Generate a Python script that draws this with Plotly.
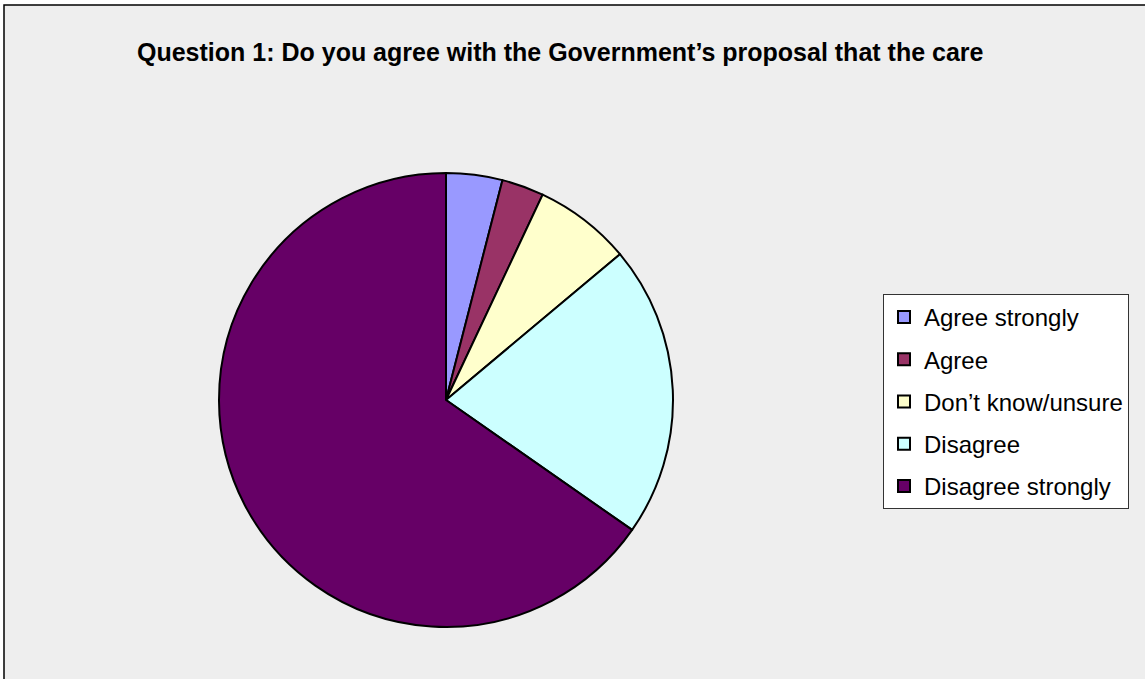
import plotly.graph_objects as go

categories = ["Agree strongly", "Agree", "Don\u2019t know/unsure", "Disagree", "Disagree strongly"]
values = [4.0, 3.0, 6.9, 20.8, 65.3]
colors = ["#9999FF", "#993366", "#FFFFCC", "#CCFFFF", "#660066"]
title_text = "Question 1: Do you agree with the Government\u2019s proposal that the care"

W, H = 1145, 679
cx, cy, r = 446, 400, 227

fig = go.Figure()
fig.add_trace(go.Pie(
    labels=categories, values=values, sort=False, direction="clockwise", rotation=0,
    marker=dict(colors=colors, line=dict(color="#000000", width=2)),
    textinfo="none", hoverinfo="label+percent", showlegend=False,
    domain=dict(x=[(cx - r) / W, (cx + r) / W], y=[(H - cy - r) / H, (H - cy + r) / H]),
))
for i, (lab, col) in enumerate(zip(categories, colors)):
    fig.add_trace(go.Scatter(
        x=[None], y=[None], mode="markers", name=lab, legendgroup=f"g{i}",
        marker=dict(symbol="square", size=10, color=col, line=dict(color="#000000", width=1.2)),
    ))

fig.update_layout(
    width=W, height=H, margin=dict(l=0, r=0, t=0, b=0),
    paper_bgcolor="#FFFFFF", plot_bgcolor="rgba(0,0,0,0)",
    xaxis=dict(visible=False), yaxis=dict(visible=False),
    font=dict(family="Liberation Sans, Arial, sans-serif", color="#000000"),
    legend=dict(x=883 / W, y=1 - 294 / H, xanchor="left", yanchor="top",
                bgcolor="#FFFFFF", bordercolor="#333333", borderwidth=1,
                font=dict(size=24, family="Liberation Sans, Arial, sans-serif"),
                traceorder="grouped", tracegroupgap=8, itemsizing="constant"),
    shapes=[dict(type="rect", xref="paper", yref="paper", layer="below",
                 x0=4 / W, x1=1.02, y0=-0.02, y1=1 - 5 / H,
                 fillcolor="#EEEEEE", line=dict(color="#000000", width=1.5))],
    annotations=[dict(text="<b>" + title_text + "</b>", xref="paper", yref="paper",
                      x=135 / W, y=1 - 52 / H, xanchor="left", yanchor="middle",
                      showarrow=False,
                      font=dict(size=25, family="Liberation Sans, Arial, sans-serif", color="#000000"))],
)
fig.write_html("out.html")
